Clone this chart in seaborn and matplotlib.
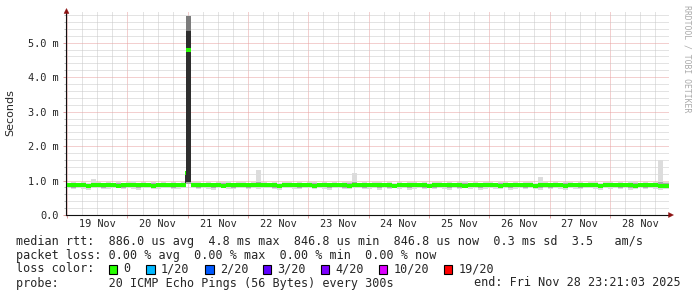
import matplotlib
matplotlib.use("Agg")
import numpy as np
import pandas as pd
import matplotlib.pyplot as plt
import matplotlib.dates as mdates
from matplotlib.ticker import MultipleLocator, FuncFormatter, NullFormatter
from matplotlib.patches import Polygon, Rectangle
import seaborn as sns

# ---------------- data ----------------
START = "2025-11-18 23:21:03"
END = "2025-11-28 23:21:03"
BIN_HOURS = 2

# median rtt per 2-hour bin (ms)
median_ms = [
    0.86, 0.86, 0.87, 0.86, 0.85, 0.86, 0.86, 0.87, 0.86, 0.86, 0.85, 0.86,
    0.86, 0.87, 0.86, 0.86, 0.86, 0.85, 0.86, 0.86, 0.87, 0.86, 0.86, 0.86,
    4.80, 0.86, 0.86, 0.87, 0.86, 0.86, 0.86, 0.85, 0.86, 0.86, 0.87, 0.86,
    0.86, 0.86, 0.86, 0.87, 0.86, 0.86, 0.85, 0.86, 0.86, 0.86, 0.87, 0.86,
    0.86, 0.85, 0.86, 0.86, 0.87, 0.86, 0.86, 0.86, 0.85, 0.86, 0.87, 0.86,
    0.86, 0.86, 0.87, 0.86, 0.86, 0.85, 0.86, 0.86, 0.86, 0.87, 0.86, 0.86,
    0.85, 0.86, 0.86, 0.87, 0.86, 0.86, 0.86, 0.85, 0.86, 0.86, 0.87, 0.86,
    0.86, 0.86, 0.85, 0.86, 0.87, 0.86, 0.86, 0.86, 0.86, 0.85, 0.86, 0.87,
    0.86, 0.86, 0.86, 0.85, 0.86, 0.87, 0.86, 0.86, 0.86, 0.86, 0.85, 0.86,
    0.86, 0.87, 0.86, 0.86, 0.86, 0.85, 0.86, 0.86, 0.87, 0.86, 0.85, 0.85,
]

# outer (light) smoke range per bin (ms)
outer_lo = [
    0.77, 0.75, 0.78, 0.76, 0.74, 0.77, 0.79, 0.76, 0.75, 0.78, 0.77, 0.76,
    0.78, 0.76, 0.74, 0.77, 0.79, 0.75, 0.76, 0.78, 0.77, 0.75, 0.76, 0.78,
    0.90, 0.77, 0.75, 0.78, 0.76, 0.74, 0.77, 0.79, 0.76, 0.75, 0.78, 0.77,
    0.76, 0.78, 0.75, 0.77, 0.79, 0.76, 0.74, 0.77, 0.78, 0.76, 0.75, 0.77,
    0.78, 0.75, 0.77, 0.76, 0.74, 0.78, 0.77, 0.75, 0.76, 0.79, 0.77, 0.75,
    0.76, 0.78, 0.74, 0.77, 0.75, 0.78, 0.76, 0.77, 0.74, 0.76, 0.78, 0.75,
    0.77, 0.75, 0.78, 0.76, 0.74, 0.77, 0.75, 0.78, 0.76, 0.77, 0.74, 0.76,
    0.78, 0.76, 0.75, 0.77, 0.74, 0.76, 0.78, 0.75, 0.77, 0.76, 0.74, 0.78,
    0.75, 0.77, 0.76, 0.74, 0.78, 0.76, 0.75, 0.77, 0.79, 0.76, 0.74, 0.77,
    0.76, 0.78, 0.75, 0.77, 0.74, 0.76, 0.78, 0.75, 0.77, 0.76, 0.74, 0.76,
]
outer_hi = [
    0.93, 0.95, 0.94, 0.96, 0.93, 1.04, 0.95, 0.94, 0.97, 0.93, 0.95, 0.94,
    0.96, 1.00, 0.94, 0.95, 0.93, 0.97, 0.94, 0.95, 0.93, 0.96, 0.94, 0.95,
    5.78, 0.97, 0.96, 0.94, 0.95, 0.93, 0.96, 0.95, 1.00, 0.94, 0.97, 0.95,
    0.94, 0.96, 1.30, 0.95, 0.93, 0.96, 0.94, 0.97, 0.95, 0.93, 0.96, 0.94,
    0.95, 0.97, 0.94, 0.96, 0.93, 0.95, 0.94, 0.97, 0.95, 1.22, 0.94, 0.96,
    0.93, 0.95, 0.97, 0.94, 0.96, 0.93, 0.95, 0.94, 0.96, 0.95, 0.93, 0.97,
    0.94, 0.96, 0.95, 0.93, 0.97, 0.94, 0.95, 1.00, 0.94, 0.96, 0.93, 0.95,
    0.96, 0.94, 0.97, 0.95, 0.93, 0.96, 0.94, 0.95, 0.97, 0.94, 1.10, 0.95,
    0.93, 0.96, 0.94, 0.95, 0.97, 0.93, 0.95, 0.94, 0.96, 0.95, 0.94, 0.97,
    0.95, 0.93, 0.96, 0.94, 0.98, 0.95, 0.94, 0.96, 0.93, 0.95, 1.59, 0.95,
]

# inner (medium) smoke range per bin (ms)
inner_lo = [
    0.80, 0.79, 0.81, 0.80, 0.78, 0.80, 0.82, 0.79, 0.80, 0.81, 0.80, 0.79,
    0.81, 0.80, 0.78, 0.80, 0.82, 0.79, 0.80, 0.81, 0.80, 0.79, 0.80, 0.81,
    0.90, 0.80, 0.79, 0.81, 0.80, 0.78, 0.80, 0.82, 0.80, 0.79, 0.81, 0.80,
    0.79, 0.81, 0.80, 0.80, 0.82, 0.79, 0.78, 0.80, 0.81, 0.80, 0.79, 0.80,
    0.81, 0.79, 0.80, 0.80, 0.78, 0.81, 0.80, 0.79, 0.80, 0.82, 0.80, 0.79,
    0.80, 0.81, 0.78, 0.80, 0.79, 0.81, 0.80, 0.80, 0.78, 0.80, 0.81, 0.79,
    0.80, 0.79, 0.81, 0.80, 0.78, 0.80, 0.79, 0.81, 0.80, 0.80, 0.78, 0.80,
    0.81, 0.80, 0.79, 0.80, 0.78, 0.80, 0.81, 0.79, 0.80, 0.80, 0.78, 0.81,
    0.79, 0.80, 0.80, 0.78, 0.81, 0.80, 0.79, 0.80, 0.82, 0.80, 0.78, 0.80,
    0.80, 0.81, 0.79, 0.80, 0.78, 0.80, 0.81, 0.79, 0.80, 0.80, 0.78, 0.80,
]
inner_hi = [
    0.91, 0.92, 0.91, 0.93, 0.91, 0.94, 0.91, 0.92, 0.93, 0.91, 0.92, 0.91,
    0.92, 0.94, 0.91, 0.92, 0.91, 0.93, 0.91, 0.92, 0.91, 0.93, 0.91, 0.92,
    5.78, 0.93, 0.92, 0.91, 0.92, 0.91, 0.93, 0.92, 0.94, 0.91, 0.93, 0.92,
    0.91, 0.93, 0.95, 0.92, 0.91, 0.93, 0.91, 0.93, 0.92, 0.91, 0.93, 0.91,
    0.92, 0.93, 0.91, 0.93, 0.91, 0.92, 0.91, 0.93, 0.92, 0.95, 0.91, 0.93,
    0.91, 0.92, 0.93, 0.91, 0.93, 0.91, 0.92, 0.91, 0.93, 0.92, 0.91, 0.93,
    0.91, 0.93, 0.92, 0.91, 0.93, 0.91, 0.92, 0.94, 0.91, 0.93, 0.91, 0.92,
    0.93, 0.91, 0.93, 0.92, 0.91, 0.93, 0.91, 0.92, 0.93, 0.91, 0.94, 0.92,
    0.91, 0.93, 0.91, 0.92, 0.93, 0.91, 0.92, 0.91, 0.93, 0.92, 0.91, 0.93,
    0.92, 0.91, 0.93, 0.91, 0.94, 0.92, 0.91, 0.93, 0.91, 0.92, 0.96, 0.92,
]

# dark smoke core around the outage spike
core_start = ["2025-11-20 22:45", "2025-11-20 23:21:03"]
core_end = ["2025-11-20 23:21:03", "2025-11-21 01:21:03"]
core_lo = [0.86, 0.95]
core_hi = [1.22, 5.35]

# upper part of the spike smoke
upper_start = ["2025-11-20 23:21:03"]
upper_end = ["2025-11-21 01:21:03"]
upper_lo = [5.35]
upper_hi = [5.78]

# short pre-spike median step
pre_start = "2025-11-20 22:45"
pre_end = "2025-11-20 23:21:03"
pre_median = 1.22

legend_rows = [
    "median rtt:  886.0 us avg  4.8 ms max  846.8 us min  846.8 us now  0.3 ms sd  3.5   am/s",
    "packet loss: 0.00 % avg  0.00 % max  0.00 % min  0.00 % now",
]
loss_labels = ["0", "1/20", "2/20", "3/20", "4/20", "10/20", "19/20"]
loss_colors = ["#26ff00", "#00b8ff", "#0059ff", "#5e00ff", "#7e00ff", "#dd00ff", "#ff0000"]
probe_text = "probe:       20 ICMP Echo Pings (56 Bytes) every 300s"
end_text = "end: Fri Nov 28 23:21:03 2025"

# ---------------- figure ----------------
sns.set_style("white")
plt.rcParams["font.family"] = ["DejaVu Sans Mono", "DejaVu Sans"]

W, H = 697, 297
fig = plt.figure(figsize=(W / 100, H / 100), dpi=100)
fig.patch.set_facecolor("white")


def fx(x):
    return x / W


def fy(y):
    return 1 - y / H


ax = fig.add_axes([fx(65.5), fy(215), (668.5 - 65.5) / W, (215 - 11) / H])
ax.set_facecolor("white")

start = pd.Timestamp(START)
end = pd.Timestamp(END)
n = len(median_ms)
edges = pd.date_range(start, periods=n + 1, freq=f"{BIN_HOURS}h")

olo = np.r_[outer_lo, outer_lo[-1]]
ohi = np.r_[outer_hi, outer_hi[-1]]
ilo = np.r_[inner_lo, inner_lo[-1]]
ihi = np.r_[inner_hi, inner_hi[-1]]
ax.fill_between(edges, olo, ohi, step="post", color="#dcdcdc", lw=0, zorder=1)
ax.fill_between(edges, ilo, ihi, step="post", color="#ababab", lw=0, zorder=2)
for s, e, lo, hi in zip(upper_start, upper_end, upper_lo, upper_hi):
    ax.fill_between([pd.Timestamp(s), pd.Timestamp(e)], [lo, lo], [hi, hi],
                    color="#7c7c7c", lw=0, zorder=2.4)
for s, e, lo, hi in zip(core_start, core_end, core_lo, core_hi):
    ax.fill_between([pd.Timestamp(s), pd.Timestamp(e)], [lo, lo], [hi, hi],
                    color="#2e2e2e", lw=0, zorder=2.5)

rows = []
for i, m in enumerate(median_ms):
    rows.append((edges[i], m, i))
    rows.append((edges[i + 1], m, i))
rows.append((pd.Timestamp(pre_start), pre_median, n))
rows.append((pd.Timestamp(pre_end), pre_median, n))
df = pd.DataFrame(rows, columns=["time", "rtt", "seg"])
sns.lineplot(data=df, x="time", y="rtt", units="seg", estimator=None,
             color="#26ff00", linewidth=2.9, legend=False, ax=ax, zorder=3)
for ln in ax.get_lines():
    ln.set_solid_capstyle("butt")

ax.set_xlim(start, end)
ax.set_ylim(0, 5.92)
ax.set_xlabel("")
ax.set_ylabel("")

# ticks / grid
ax.xaxis.set_major_locator(mdates.DayLocator())
ax.xaxis.set_major_formatter(NullFormatter())
ax.xaxis.set_minor_locator(mdates.HourLocator(byhour=[6, 12, 18]))


def xfmt(v, p):
    d = mdates.num2date(v)
    return d.strftime("%d %b") if d.hour == 12 else ""


ax.xaxis.set_minor_formatter(FuncFormatter(xfmt))
ax.yaxis.set_major_locator(MultipleLocator(1))
ax.yaxis.set_minor_locator(MultipleLocator(0.2))
ax.yaxis.set_major_formatter(FuncFormatter(lambda v, p: "0.0" if abs(v) < 1e-9 else f"{v:.1f} m"))

ax.grid(True, which="major", color="#e8a0a0", linestyle=(0, (1, 1)), linewidth=0.72)
ax.grid(True, which="minor", color="#c8c8c8", linestyle=(0, (1, 1)), linewidth=0.72)
ax.set_axisbelow(True)

ax.tick_params(which="both", bottom=True, left=True, top=False, right=False, direction="out")
ax.tick_params(axis="y", which="major", length=2.2, width=0.72, color="#e0a0a0",
               pad=2.5, labelsize=7.4)
ax.tick_params(axis="y", which="minor", length=1.5, width=0.72, color="#bbbbbb")
ax.tick_params(axis="x", which="major", length=2.2, width=0.72, color="#e0a0a0")
ax.tick_params(axis="x", which="minor", length=0, pad=3.0, labelsize=7.4)

for side in ["top", "right"]:
    ax.spines[side].set_visible(False)
for side in ["left", "bottom"]:
    ax.spines[side].set_color("#111111")
    ax.spines[side].set_linewidth(0.8)
    ax.spines[side].set_zorder(5)

# axis arrows
arrow_col = "#8b1010"
fig.patches.append(Polygon([(fx(66.5), fy(8.5)), (fx(64.0), fy(13.5)), (fx(69.0), fy(13.5))],
                           closed=True, transform=fig.transFigure, facecolor=arrow_col,
                           edgecolor=arrow_col, lw=0.3))
fig.patches.append(Polygon([(fx(673.5), fy(215)), (fx(668.5), fy(212.5)), (fx(668.5), fy(217.5))],
                           closed=True, transform=fig.transFigure, facecolor=arrow_col,
                           edgecolor=arrow_col, lw=0.3))

# labels
fig.text(fx(10), fy(113), "Seconds", rotation=90, family="DejaVu Sans", fontsize=8,
         ha="center", va="center")
fig.text(fx(687), fy(5), "RRDTOOL / TOBI OETIKER", rotation=270, ha="center", va="top",
         fontsize=5.9, color="#aaaaaa")

# legend text
row_y = [241, 255, 269, 283]
fs = 8.5
fig.text(fx(16), fy(row_y[0]), legend_rows[0], fontsize=fs, ha="left", va="center")
fig.text(fx(16), fy(row_y[1]), legend_rows[1], fontsize=fs, ha="left", va="center")
fig.text(fx(16), fy(row_y[2]), "loss color:", fontsize=fs, ha="left", va="center")
box_x = [108.5, 146, 205, 262.5, 320.5, 379, 444]
for bx, lab, col in zip(box_x, loss_labels, loss_colors):
    fig.patches.append(Rectangle((fx(bx), fy(row_y[2] + 4.5)), 8.5 / W, 9 / H,
                                 transform=fig.transFigure, facecolor=col,
                                 edgecolor="black", lw=0.8))
    fig.text(fx(bx + 15), fy(row_y[2]), lab, fontsize=fs, ha="left", va="center")
fig.text(fx(16), fy(row_y[3]), probe_text, fontsize=fs, ha="left", va="center")
fig.text(fx(681), fy(row_y[3]), end_text, fontsize=fs, ha="right", va="center")

fig.savefig("out.png", dpi=100, facecolor="white")
